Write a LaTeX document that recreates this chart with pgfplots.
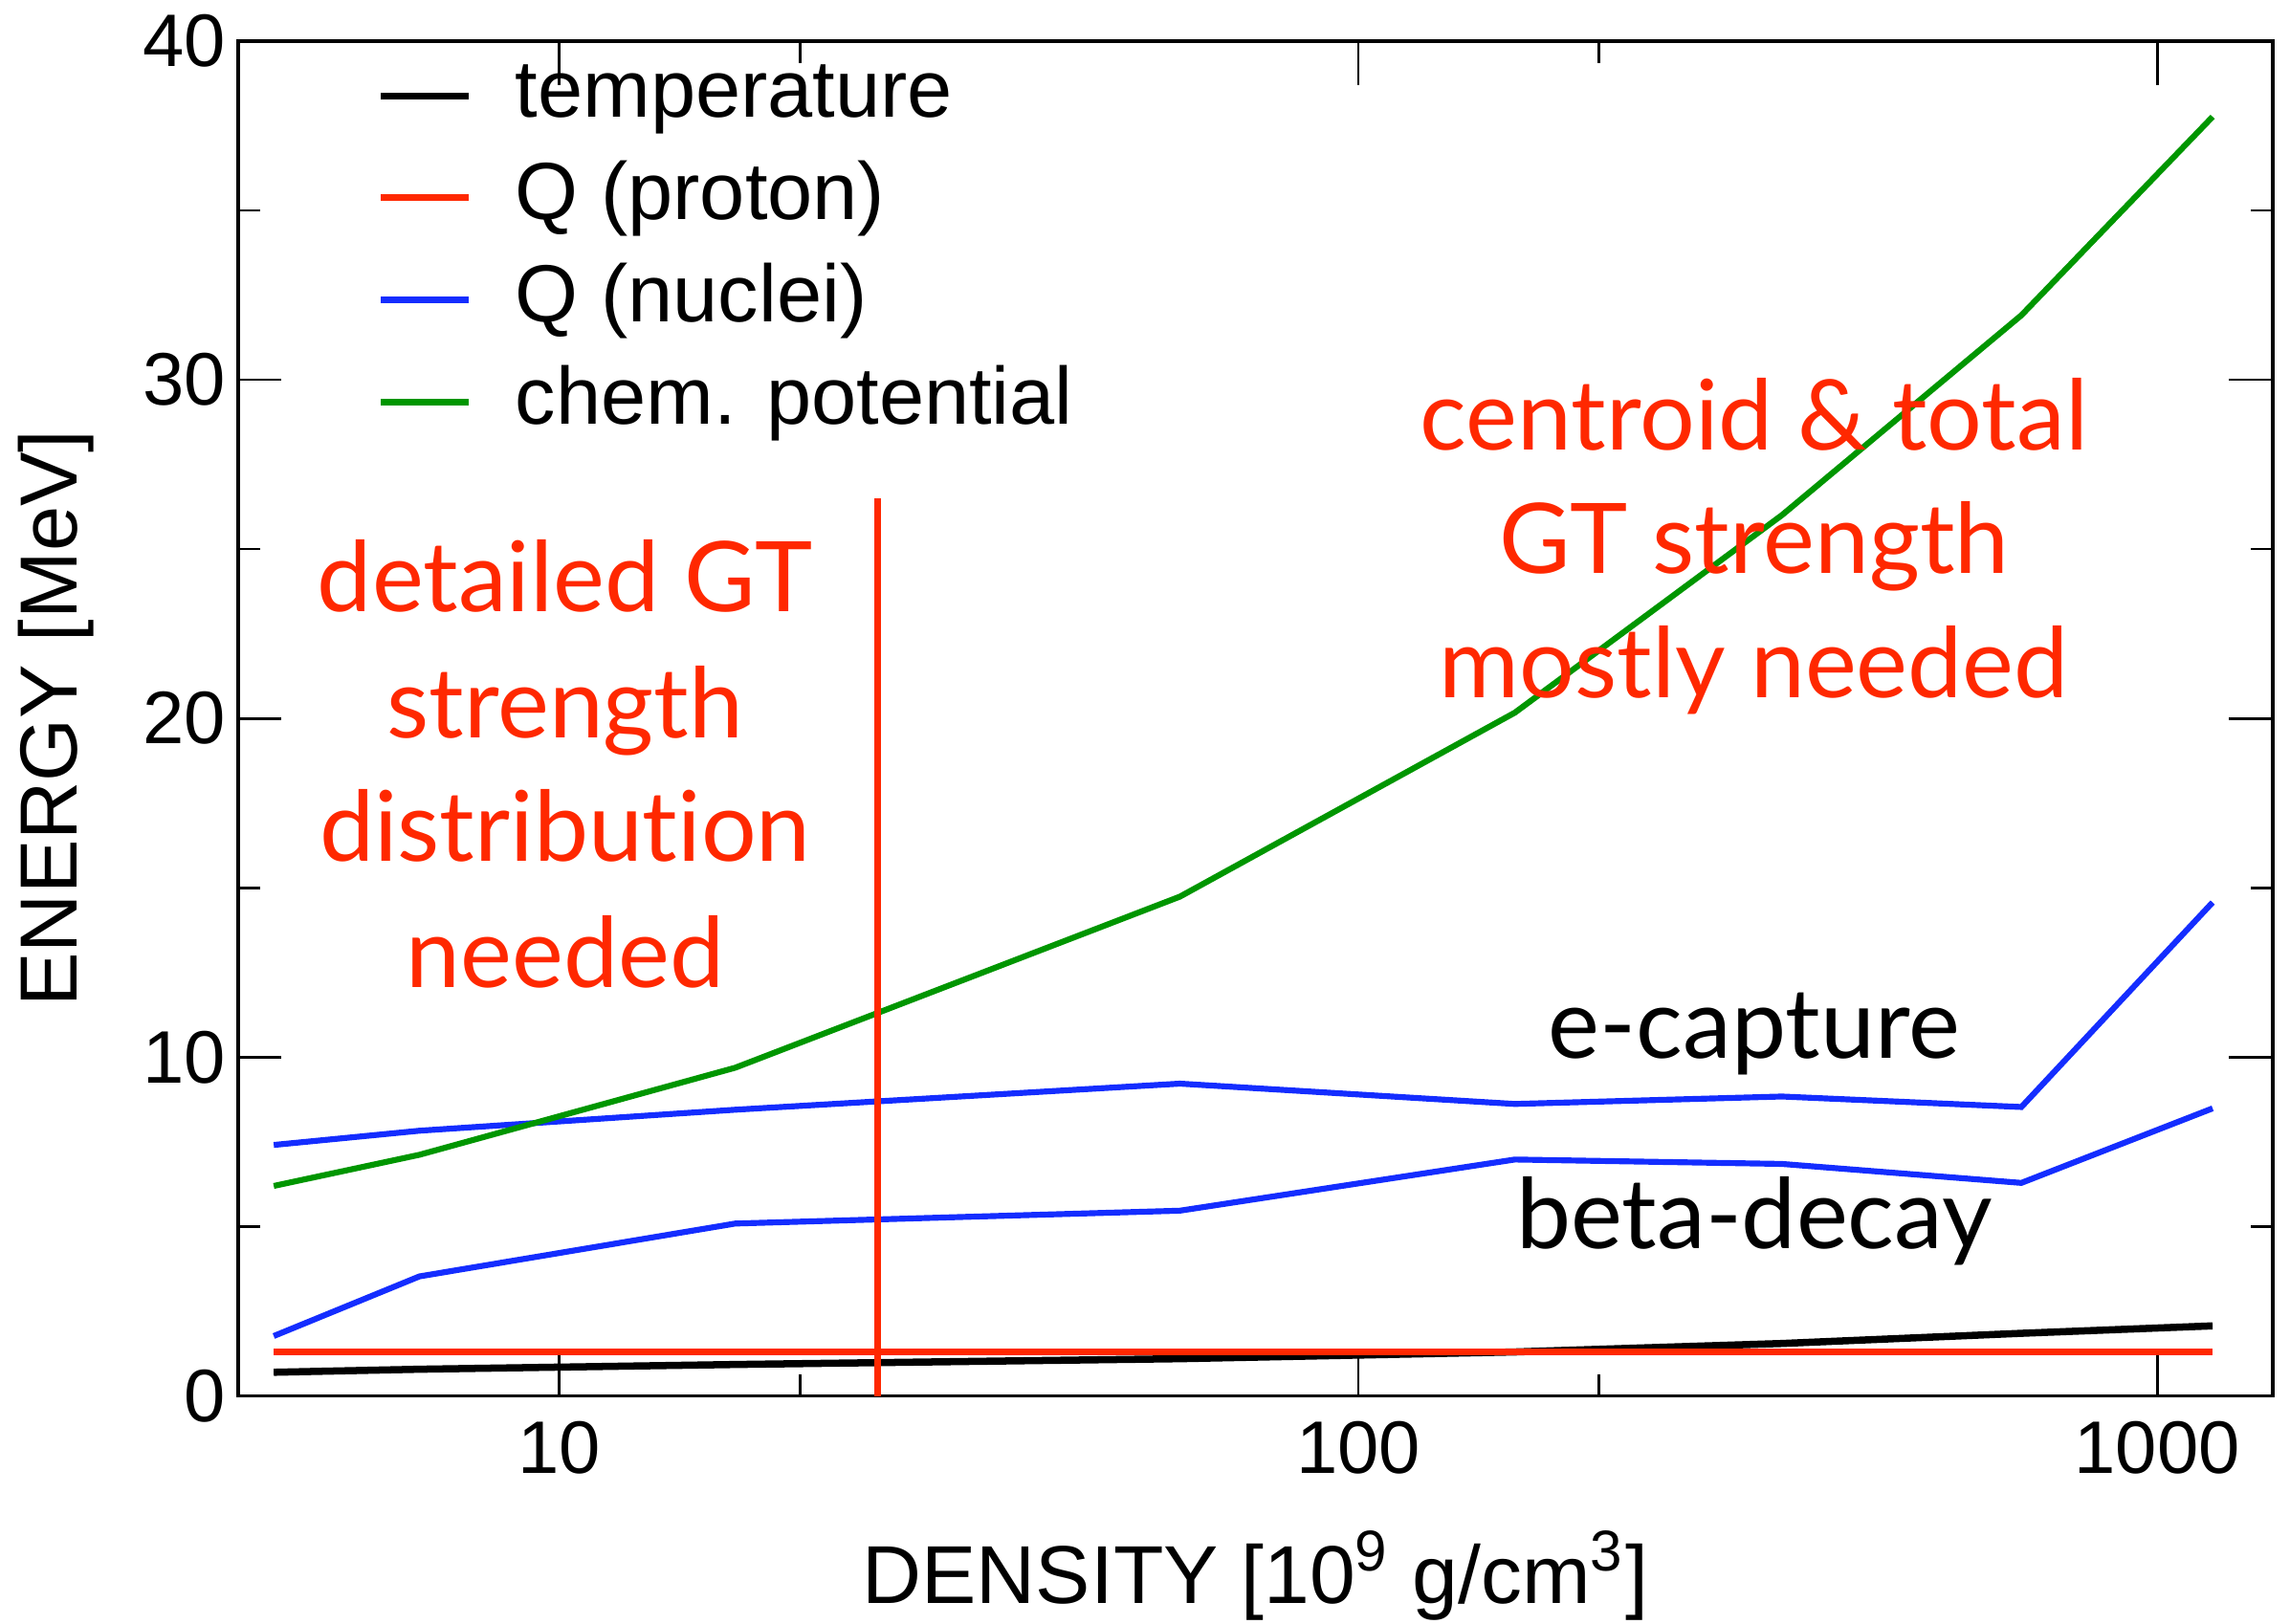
\documentclass[border=0pt]{standalone}
\usepackage{fontspec}
\setmainfont{Liberation Sans}
\newfontfamily\annofont{Lato}[Ligatures=NoCommon]
\usepackage{pgfplots}
\pgfplotsset{compat=1.18}
\usetikzlibrary{calc}

\definecolor{lred}{RGB}{255,40,0}
\definecolor{lblue}{RGB}{20,45,255}
\definecolor{lgreen}{RGB}{0,150,0}

% density [10^9 g/cm^3] vs energy [MeV]
\pgfplotstableread{
rho    T     Qp    Qec    Qbeta  mu
4.39   0.70  1.30  7.41   1.77   6.20
6.68   0.79  1.30  7.83   3.53   7.12
16.6   0.93  1.30  8.45   5.09   9.69
59.8   1.10  1.30  9.22   5.47   14.74
157    1.30  1.30  8.62   6.98   20.17
339    1.55  1.30  8.84   6.85   26.0
676    1.85  1.30  8.53   6.29   31.9
1173   2.07  1.30  14.57  8.49   37.76
}\energies

\begin{document}
\begin{tikzpicture}
\begin{axis}[
  scale only axis,
  width=13.93cm, height=9.28cm,
  xmode=log, xmin=3.961, xmax=1394, ymin=0, ymax=40,
  xtick={10,100,1000}, xticklabels={10,100,1000},
  minor xtick={20,200},
  ytick={0,10,20,30,40}, minor ytick={5,15,25,35},
  tick align=inside, tick pos=both,
  major tick length=0.3cm, minor tick length=0.15cm,
  every tick/.style={black, line width=0.5pt},
  axis line style={line width=0.7pt},
  /pgf/number format/assume math mode=true,
  tick label style={font=\fontsize{14.5}{17}\selectfont},
  xticklabel style={yshift=-0.05cm},
  yticklabel style={xshift=0.04cm},
  xlabel={DENSITY [10\textsuperscript{9} g/cm\textsuperscript{3}]},
  ylabel={ENERGY [MeV]},
  every axis x label/.style={at={(axis description cs:0.5,-0.153)}, anchor=base,
    font=\fontsize{16}{19}\selectfont},
  every axis y label/.style={at={(axis description cs:-0.0897,0.5)}, anchor=center, rotate=90,
    font=\fontsize{15.8}{19}\selectfont},
  clip=false,
  legend cell align=left,
  legend style={
    at={(rel axis cs:0.068,0.998)}, anchor=north west,
    draw=none, fill=none, inner sep=0pt,
    font=\fontsize{15.8}{19}\selectfont,
    row sep=0pt,
    nodes={inner sep=0pt, text height=0.5cm, text depth=0.2cm},
    /tikz/every odd column/.append style={column sep=0.3cm},
  },
  legend image code/.code={\draw[#1, line width=1.3pt] (0cm,0cm) -- (0.6cm,0cm);},
]
\addplot[black, line width=1.4pt] table[x=rho, y=T] {\energies};
\addlegendentry{temperature}
\addplot[lred, line width=1.15pt] table[x=rho, y=Qp] {\energies};
\addlegendentry{Q (proton)}
\addplot[lblue, line width=1.15pt] table[x=rho, y=Qec] {\energies};
\addlegendentry{Q (nuclei)}
\addplot[lblue, line width=1.15pt, forget plot] table[x=rho, y=Qbeta] {\energies};
\addplot[lgreen, line width=1.15pt] table[x=rho, y=mu] {\energies};
\addlegendentry{chem. potential}
% boundary between the two regimes
\addplot[lred, line width=1.3pt, forget plot] coordinates {(25,0) (25,26.5)};

\coordinate (bl) at (rel axis cs:0,0);
\coordinate (tr) at (rel axis cs:1,1);

\begin{scope}[every node/.style={anchor=base, inner sep=0pt, font=\annofont\fontsize{19}{23}\selectfont}]
\node[text=lred] at (rel axis cs:0.1608,0.5787) {detailed GT};
\node[text=lred] at (rel axis cs:0.1608,0.4860) {strength};
\node[text=lred] at (rel axis cs:0.1608,0.3944) {distribution};
\node[text=lred] at (rel axis cs:0.1608,0.3017) {needed};
\node[text=lred] at (rel axis cs:0.7452,0.6983) {centroid \& total};
\node[text=lred] at (rel axis cs:0.7452,0.6067) {GT strength};
\node[text=lred] at (rel axis cs:0.7452,0.5151) {mostly needed};
\node[text=black] at (rel axis cs:0.7452,0.2489) {e-capture};
\node[text=black] at (rel axis cs:0.7452,0.1088) {beta-decay};
\end{scope}
\end{axis}
\pgfresetboundingbox
\path[use as bounding box] ($(bl)+(-1.63cm,-1.56cm)$) rectangle ($(tr)+(0.12cm,0.28cm)$);
\end{tikzpicture}
\end{document}
